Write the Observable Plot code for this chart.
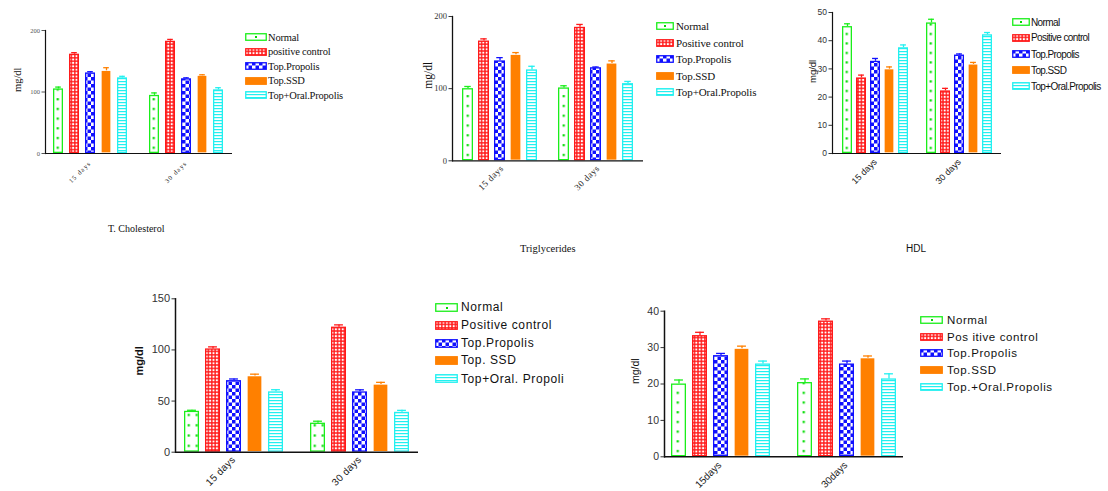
<!DOCTYPE html>
<html><head><meta charset="utf-8">
<script src="https://cdn.jsdelivr.net/npm/d3@7"></script>
<script src="https://cdn.jsdelivr.net/npm/@observablehq/plot@0.6"></script>
<style>
body{margin:0;background:#fff;}
#root{position:relative;width:1108px;height:491px;overflow:hidden;background:#fff;}
.leg{position:absolute;white-space:nowrap;color:#111;}
.leg .row{position:absolute;left:0;height:16px;display:flex;align-items:center;}
.leg svg{display:block;}
.cap{position:absolute;white-space:nowrap;color:#111;line-height:1;}
</style></head><body>
<svg width="0" height="0" style="position:absolute">
<defs>
 <pattern id="pos" patternUnits="userSpaceOnUse" width="3.4" height="3.4"><rect width="3.4" height="3.4" fill="#ff1a1a"/><rect x="0.7" y="0.7" width="2" height="2" fill="#fff"/></pattern>
 <pattern id="chk" patternUnits="userSpaceOnUse" width="7" height="7"><rect width="7" height="7" fill="#fff"/><rect width="3.5" height="3.5" fill="#1010ff"/><rect x="3.5" y="3.5" width="3.5" height="3.5" fill="#1010ff"/></pattern>
 <pattern id="lin" patternUnits="userSpaceOnUse" width="3" height="3"><rect width="3" height="3" fill="#fff"/><rect width="3" height="1.2" fill="#22f0f0"/></pattern>
</defs></svg>
<div id="root"></div>
<script>
// ---------- data ----------
const series = ["Normal", "Positive control", "Top.Propolis", "Top.SSD", "Top+Oral.Propolis"];
const days = ["15 days", "30 days"];
const dayLabelsCompact = ["15days", "30days"];

const cholesterolMean15 = [105, 161.5, 131, 134.5, 123];
const cholesterolSem15  = [3, 2.5, 2, 5, 2.5];
const cholesterolMean30 = [94.5, 182.5, 121.5, 126.5, 103.5];
const cholesterolSem30  = [4, 3, 1.5, 1.5, 3.5];
const cholesterolTicks  = [0, 100, 200];
const cholesterolLegend = ["Normal", "positive control", "Top.Propolis", "Top.SSD", "Top+Oral.Propolis"];

const trigMean15 = [100, 166, 138.5, 147, 126];
const trigSem15  = [3, 3, 4.5, 3, 5];
const trigMean30 = [101, 185, 129, 135, 107];
const trigSem30  = [3, 4, 1, 3.5, 3];
const trigTicks  = [0, 100, 200];
const trigLegend = ["Normal", "Positive control", "Top.Propolis", "Top.SSD", "Top+Oral.Propolis"];

const hdlMean15 = [45, 26.8, 32.7, 29.9, 37.5];
const hdlSem15  = [1, 1, 1, 0.8, 1];
const hdlMean30 = [46.3, 22.2, 34.9, 31.6, 42.1];
const hdlSem30  = [1.3, 0.9, 0.4, 0.7, 0.8];
const hdlTicks  = [0, 10, 20, 30, 40, 50];
const hdlLegend = ["Normal", "Positive control", "Top.Propolis", "Top.SSD", "Top+Oral.Propolis"];

const p4Mean15 = [40, 101, 70, 74.4, 59];
const p4Sem15  = [1, 2, 1.6, 1.9, 2.1];
const p4Mean30 = [28.4, 122.3, 59, 66.2, 39];
const p4Sem30  = [1.9, 2.2, 2, 2.1, 1.9];
const p4Ticks  = [0, 50, 100, 150];
const p4Legend = ["Normal", "Positive control", "Top.Propolis", "Top. SSD", "Top+Oral. Propoli"];

const p5Mean15 = [20, 33.3, 27.8, 29.7, 25.5];
const p5Sem15  = [1.1, 0.9, 0.6, 0.7, 0.8];
const p5Mean30 = [20.4, 37.3, 25.5, 27.1, 21.4];
const p5Sem30  = [1, 0.6, 0.8, 0.6, 1.4];
const p5Ticks  = [0, 10, 20, 30, 40];
const p5Legend = ["Normal", "Pos itive control", "Top.Propolis", "Top.SSD", "Top.+Oral.Propolis"];

const captions = ["T. Cholesterol", "Triglycerides", "HDL"];

// ---------- styles ----------
const GREEN = "#1aee1a", DOT = "#00dd00", RED = "#ff1a1a", BLUE = "#1010ff", ORANGE = "#ff8000", CYAN = "#22f0f0";
const styles = [
  {fill: "#fff", stroke: GREEN},
  {fill: "url(#pos)", stroke: RED},
  {fill: "url(#chk)", stroke: BLUE},
  {fill: ORANGE, stroke: ORANGE},
  {fill: "url(#lin)", stroke: CYAN}
];
const NS = "http://www.w3.org/2000/svg";
const root = document.getElementById("root");

function buildRows(m15, s15, m30, s30) {
  const rows = [];
  [[m15, s15], [m30, s30]].forEach(([m, s], di) => {
    series.forEach((name, i) => rows.push({day: days[di], series: name, key: days[di] + "|" + name, mean: m[i], sem: s[i]}));
  });
  return rows;
}

function panel(c) {
  const data = buildRows(c.m15, c.s15, c.m30, c.s30);
  const domain = [...series.map(s => days[0] + "|" + s), "gap", ...series.map(s => days[1] + "|" + s)];
  const step = (c.width - c.ml - c.mr) / (11 - c.pi + 2 * c.po);
  const bw = step * (1 - c.pi);
  const marks = [];
  series.forEach((s, i) => {
    const st = styles[i];
    const sub = data.filter(d => d.series === s);
    marks.push(Plot.ruleX(sub, {x: "key", y1: "mean", y2: d => d.mean + d.sem, stroke: st.stroke, strokeWidth: 1.3}));
    marks.push(Plot.tickY(sub, {x: "key", y: d => d.mean + d.sem, stroke: st.stroke, strokeWidth: 1.3, insetLeft: bw * 0.2, insetRight: bw * 0.2}));
    marks.push(Plot.barY(sub, {x: "key", y: "mean", fill: st.fill, stroke: i === 3 ? "none" : st.stroke, strokeWidth: 1.3, inset: 0.65, ariaLabel: i === 0 ? () => "normal-bar" : () => "bar"}));
  });
  marks.push(Plot.ruleY([0], {stroke: "#111", strokeWidth: c.axisW}));
  marks.push(Plot.frame({anchor: "left", stroke: "#111", strokeWidth: c.axisW}));
  marks.push(Plot.axisY({ticks: c.ticks, tickSize: 3.5, tickPadding: 2, fontSize: c.tickFont, color: c.tickColor, label: null, strokeWidth: 1}));
  marks.push(Plot.text(["mg/dl"], {text: d => d, frameAnchor: "left", dx: c.ylx, rotate: -90, fontSize: c.yFont, fontWeight: c.yBold ? "bold" : "normal", fill: "#111"}));
  marks.push(Plot.text(days, {x: d => d + "|" + series[2], text: d => c.dayLabels[days.indexOf(d)], frameAnchor: "bottom", textAnchor: "end", rotate: -45, dx: c.xdx, dy: c.xdy, fontSize: c.xFont, fill: "#222", ariaLabel: () => "xlabels"}));
  const svg = Plot.plot({
    width: c.width, height: c.height,
    marginLeft: c.ml, marginRight: c.mr, marginTop: c.mt, marginBottom: c.mb,
    x: {domain, axis: null, paddingInner: c.pi, paddingOuter: c.po},
    y: {domain: c.ydomain, axis: null},
    style: {fontFamily: c.font, background: "transparent", overflow: "visible"},
    marks
  });
  svg.style.position = "absolute";
  svg.style.left = c.left + "px";
  svg.style.top = c.top + "px";
  svg.querySelectorAll('[aria-label="xlabels"]').forEach(t => t.setAttribute("letter-spacing", c.xls));
  // dots for Normal bars, aligned to each bar
  const defs = document.createElementNS(NS, "defs");
  svg.prepend(defs);
  svg.querySelectorAll('rect[aria-label="normal-bar"]').forEach((r, j) => {
    const x = +r.getAttribute("x"), w = +r.getAttribute("width"), y = +r.getAttribute("y"), h = +r.getAttribute("height");
    const id = c.id + "-dots-" + j;
    const p = document.createElementNS(NS, "pattern");
    p.setAttribute("id", id);
    p.setAttribute("patternUnits", "userSpaceOnUse");
    p.setAttribute("x", x); p.setAttribute("y", y + h);
    p.setAttribute("width", w); p.setAttribute("height", c.dotGap);
    const bg = document.createElementNS(NS, "rect");
    bg.setAttribute("width", w); bg.setAttribute("height", c.dotGap); bg.setAttribute("fill", "#fff");
    p.appendChild(bg);
    c.dotCols.forEach(f => {
      const d = document.createElementNS(NS, "rect");
      d.setAttribute("x", Math.round(w * f - 1)); d.setAttribute("y", Math.round(c.dotGap / 2 - 1));
      d.setAttribute("width", 2.2); d.setAttribute("height", 2.2); d.setAttribute("fill", DOT);
      p.appendChild(d);
    });
    defs.appendChild(p);
    r.setAttribute("fill", `url(#${id})`);
  });
  root.appendChild(svg);
}

function legend(c) {
  const div = document.createElement("div");
  div.className = "leg";
  div.style.left = c.x + "px"; div.style.top = "0px";
  div.style.font = c.font;
  div.style.letterSpacing = c.ls + "px";
  c.labels.forEach((lab, i) => {
    const row = document.createElement("div");
    row.className = "row";
    row.style.top = (c.rows[i] - 8) + "px";
    const sw = document.createElementNS(NS, "svg");
    sw.setAttribute("width", c.sw); sw.setAttribute("height", c.sh);
    const r = document.createElementNS(NS, "rect");
    r.setAttribute("x", 0.75); r.setAttribute("y", 0.75);
    r.setAttribute("width", c.sw - 1.5); r.setAttribute("height", c.sh - 1.5);
    r.setAttribute("fill", styles[i].fill);
    r.setAttribute("stroke", styles[i].stroke); r.setAttribute("stroke-width", 1.3);
    sw.appendChild(r);
    if (i === 0) {
      const d = document.createElementNS(NS, "rect");
      d.setAttribute("x", Math.round(c.sw / 2 - 1)); d.setAttribute("y", Math.round(c.sh / 2 - 1));
      d.setAttribute("width", 2); d.setAttribute("height", 2); d.setAttribute("fill", DOT);
      sw.appendChild(d);
    }
    row.appendChild(sw);
    const t = document.createElement("span");
    t.textContent = lab;
    t.style.marginLeft = c.gap + "px";
    row.appendChild(t);
    div.appendChild(row);
  });
  root.appendChild(div);
}

function caption(text, x, y, font) {
  const d = document.createElement("div");
  d.className = "cap";
  d.textContent = text;
  d.style.left = x + "px"; d.style.top = y + "px"; d.style.font = font;
  root.appendChild(d);
}

const SERIF = "'Liberation Serif', 'Times New Roman', serif";
const SANS = "'Liberation Sans', Arial, sans-serif";

// Panel 1: T. Cholesterol
panel({id: "p1", left: 0, top: 0, width: 240, height: 200, ml: 45, mr: 8, mt: 30, mb: 47,
  pi: 0.35, po: 0.24, ydomain: [0, 200], ticks: cholesterolTicks,
  m15: cholesterolMean15, s15: cholesterolSem15, m30: cholesterolMean30, s30: cholesterolSem30,
  font: SERIF, tickFont: 6.5, tickColor: "#555", yFont: 10.5, ylx: -28, yBold: false,
  dayLabels: days, xdx: 1, xdy: 10, xFont: 6.5, xls: "1.2px", axisW: 1.2, dotGap: 9.7, dotCols: [0.5]});
legend({x: 245, rows: [37, 51.5, 66, 80.5, 95], labels: cholesterolLegend, sw: 22, sh: 8, font: "10.5px " + SERIF, ls: -0.2, gap: 1});
caption(captions[0], 108, 223, "10px " + SERIF);

// Panel 2: Triglycerides
panel({id: "p2", left: 400, top: 0, width: 250, height: 200, ml: 52, mr: 7, mt: 16, mb: 39.7,
  pi: 0.32, po: 0.41, ydomain: [0, 200], ticks: trigTicks,
  m15: trigMean15, s15: trigSem15, m30: trigMean30, s30: trigSem30,
  font: SERIF, tickFont: 8.5, tickColor: "#333", yFont: 11.5, ylx: -24, yBold: false,
  dayLabels: days, xdx: 4, xdy: 8, xFont: 9, xls: "0.5px", axisW: 1.3, dotGap: 9.8, dotCols: [0.5]});
legend({x: 656, rows: [26, 42.5, 59, 75.5, 92], labels: trigLegend, sw: 18, sh: 8, font: "11px " + SERIF, ls: -0.1, gap: 2});
caption(captions[1], 520, 243, "10.5px " + SERIF);

// Panel 3: HDL
panel({id: "p3", left: 790, top: 0, width: 215, height: 190, ml: 42, mr: 4, mt: 12, mb: 37,
  pi: 0.31, po: 0.29, ydomain: [0, 50], ticks: hdlTicks,
  m15: hdlMean15, s15: hdlSem15, m30: hdlMean30, s30: hdlSem30,
  font: SANS, tickFont: 8.5, tickColor: "#333", yFont: 9.5, ylx: -20, yBold: false,
  dayLabels: days, xdx: 2, xdy: 9, xFont: 9, xls: "0px", axisW: 1.2, dotGap: 9.5, dotCols: [0.5]});
legend({x: 1012, rows: [22, 37.7, 54, 70, 86], labels: hdlLegend, sw: 18, sh: 8, font: "10px " + SANS, ls: -0.6, gap: 1});
caption(captions[2], 906, 243, "10px " + SANS);

// Panel 4
panel({id: "p4", left: 120, top: 280, width: 310, height: 211, ml: 55, mr: 12, mt: 18.3, mb: 39.3,
  pi: 0.28, po: 0.34, ydomain: [0, 150], ticks: p4Ticks,
  m15: p4Mean15, s15: p4Sem15, m30: p4Mean30, s30: p4Sem30,
  font: SANS, tickFont: 11, tickColor: "#333", yFont: 11, ylx: -36, yBold: true,
  dayLabels: days, xdx: 2, xdy: 8, xFont: 10, xls: "0.3px", axisW: 1.5, dotGap: 10.3, dotCols: [0.28, 0.9]});
legend({x: 435, rows: [307, 325, 343.3, 360, 378.7], labels: p4Legend, sw: 23, sh: 9, font: "12px " + SANS, ls: 0.6, gap: 3});

// Panel 5
panel({id: "p5", left: 630, top: 290, width: 280, height: 201, ml: 34, mr: 7, mt: 20.7, mb: 34.7,
  pi: 0.275, po: 0.3, ydomain: [0, 40], ticks: p5Ticks,
  m15: p5Mean15, s15: p5Sem15, m30: p5Mean30, s30: p5Sem30,
  font: SANS, tickFont: 10.5, tickColor: "#333", yFont: 10.5, ylx: -29, yBold: false,
  dayLabels: dayLabelsCompact, xdx: 1, xdy: 9, xFont: 10, xls: "0px", axisW: 1.5, dotGap: 9.7, dotCols: [0.45]});
legend({x: 920, rows: [320, 336.7, 353.3, 370, 387.3], labels: p5Legend, sw: 23, sh: 8, font: "11.5px " + SANS, ls: 0.6, gap: 4});
</script>
</body></html>
